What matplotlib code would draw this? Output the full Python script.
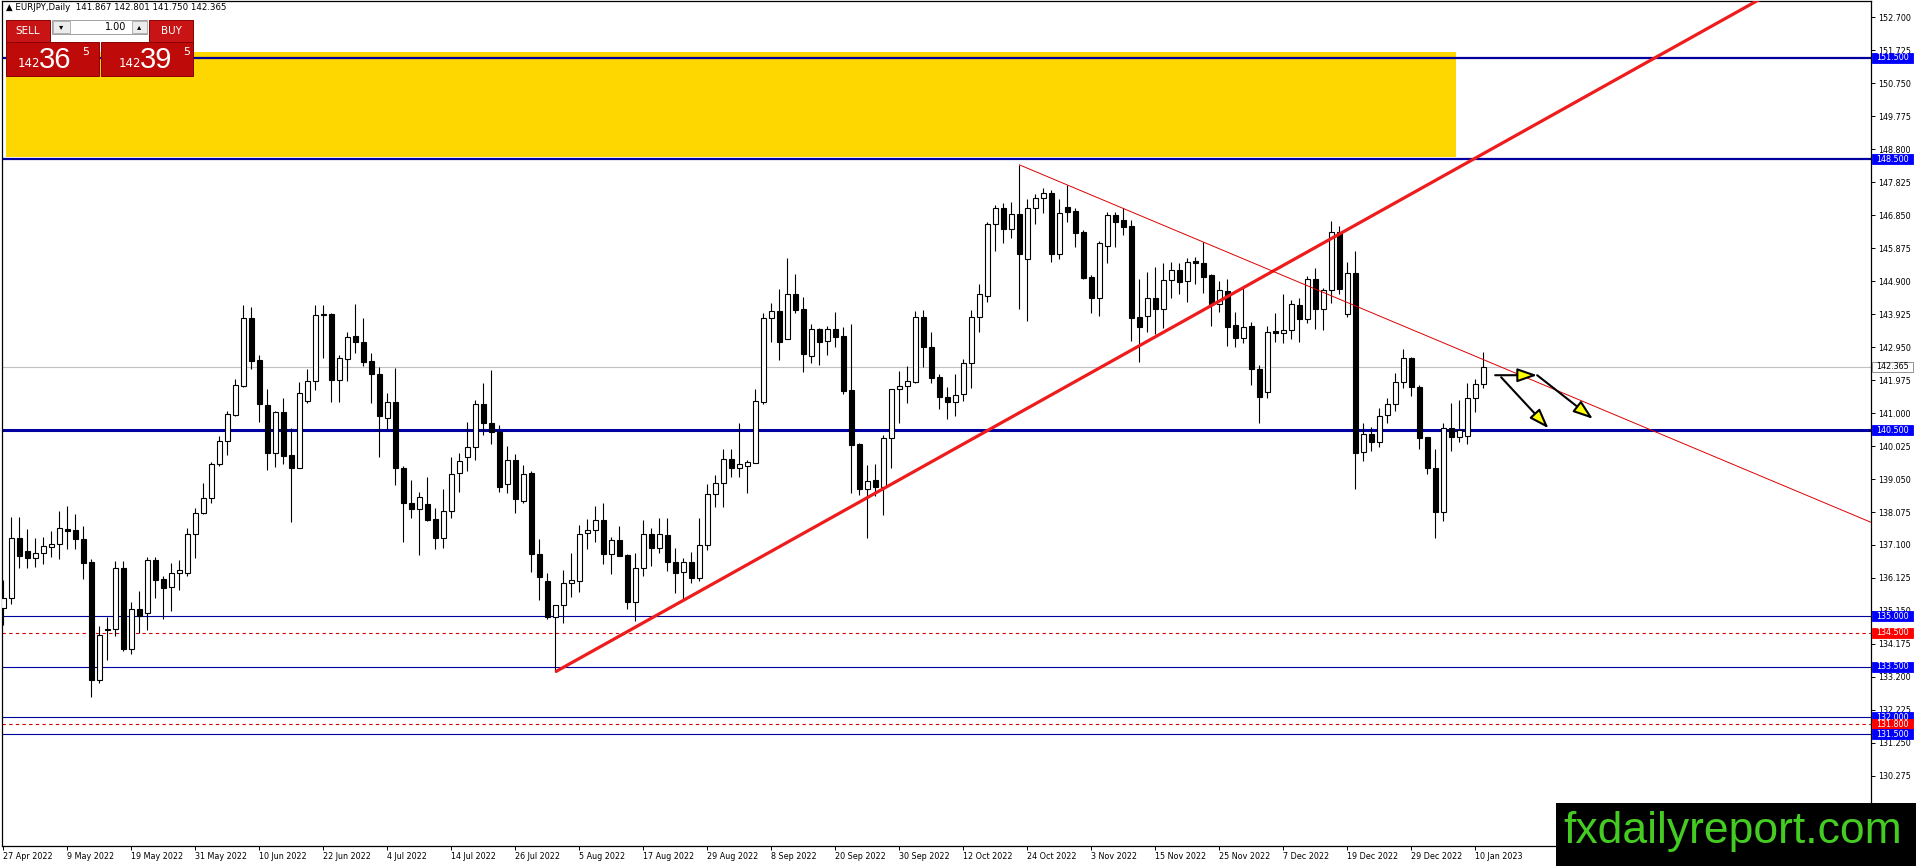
import numpy as np
import matplotlib.pyplot as plt
import matplotlib.transforms as mtransforms
from matplotlib.patches import Rectangle, FancyArrowPatch

# daily EURJPY candles, 27 Apr 2022 .. 11 Jan 2023
opens = [135.25, 135.52, 137.30, 136.92, 136.73, 136.85, 137.05, 137.12, 137.56, 137.54,
         137.28, 136.59, 133.10, 134.60, 134.63, 136.42, 134.03, 135.20, 135.08, 136.66,
         136.09, 135.85, 136.26, 136.28, 137.44, 138.04, 138.48, 139.49, 140.18, 140.94,
         141.81, 143.80, 142.56, 141.24, 139.81, 141.02, 139.76, 139.37, 141.36, 141.95,
         143.90, 143.92, 141.98, 142.59, 143.28, 143.11, 142.54, 142.15, 140.85, 141.32,
         139.37, 138.33, 138.16, 138.30, 137.86, 137.30, 138.11, 139.22, 139.71, 139.99,
         141.26, 140.70, 140.43, 138.89, 139.61, 138.41, 139.22, 136.82, 136.03, 134.96,
         135.32, 135.97, 136.04, 137.46, 137.53, 137.83, 136.82, 137.24, 136.80, 135.41,
         136.41, 137.42, 137.00, 137.40, 136.61, 136.29, 136.59, 136.11, 137.10, 138.60,
         138.92, 139.63, 139.37, 139.44, 139.53, 141.32, 143.80, 144.02, 143.18, 144.52,
         144.08, 142.70, 143.49, 143.14, 143.49, 143.28, 141.68, 140.09, 138.76, 139.02,
         138.82, 140.25, 141.70, 141.80, 141.93, 143.85, 142.95, 142.06, 141.47, 141.32,
         141.55, 142.47, 143.85, 144.47, 146.59, 147.06, 146.43, 146.88, 145.55, 147.06,
         147.35, 147.50, 145.70, 147.09, 146.97, 146.36, 145.03, 144.41, 145.95, 146.86,
         146.71, 146.53, 143.83, 143.87, 144.39, 144.07, 144.94, 145.23, 144.91, 145.50,
         145.43, 145.08, 144.22, 144.61, 143.60, 143.21, 143.57, 142.29, 141.63, 143.43,
         143.36, 143.45, 144.19, 143.77, 144.96, 144.07, 144.64, 146.35, 143.92, 145.13,
         139.86, 140.37, 140.15, 140.94, 141.26, 141.93, 142.62, 141.76, 140.28, 139.37,
         138.08, 140.57, 140.30, 140.32, 141.44, 141.867]
highs = [136.06, 137.92, 137.92, 137.56, 137.30, 137.35, 137.51, 138.11, 138.25, 138.02,
         137.66, 136.68, 134.70, 134.97, 136.62, 136.62, 135.40, 135.74, 136.75, 136.75,
         136.18, 136.56, 136.66, 137.59, 138.18, 138.92, 139.54, 140.32, 141.06, 142.00,
         144.20, 144.13, 142.72, 141.71, 141.06, 141.45, 140.57, 141.91, 142.30, 144.20,
         144.20, 143.95, 142.72, 143.41, 144.23, 143.80, 142.79, 142.37, 141.59, 142.32,
         139.44, 139.02, 138.68, 139.12, 138.18, 138.75, 139.71, 139.83, 140.75, 141.39,
         141.88, 142.27, 140.65, 140.03, 139.79, 139.47, 139.29, 137.27, 136.26, 135.32,
         136.36, 136.87, 137.69, 137.86, 138.25, 138.33, 137.34, 137.66, 136.82, 136.87,
         137.84, 137.59, 137.91, 137.91, 137.00, 136.72, 136.90, 137.91, 138.89, 139.17,
         139.93, 139.93, 140.70, 139.62, 141.70, 143.95, 144.25, 144.66, 145.59, 145.11,
         144.42, 143.63, 143.52, 143.58, 143.98, 143.54, 143.63, 140.12, 139.47, 139.49,
         140.35, 141.72, 142.24, 142.40, 144.02, 144.05, 143.39, 142.15, 141.76, 142.15,
         142.59, 144.05, 144.81, 146.66, 147.15, 147.20, 147.23, 148.34, 147.32, 147.47,
         147.65, 147.60, 147.32, 147.74, 147.05, 146.41, 145.08, 146.09, 146.96, 146.96,
         147.05, 146.71, 144.96, 145.18, 145.33, 145.43, 145.48, 145.43, 145.58, 145.61,
         146.05, 145.10, 144.91, 144.96, 143.98, 144.76, 143.70, 142.42, 143.58, 143.95,
         144.52, 144.34, 144.39, 145.05, 145.29, 144.69, 146.68, 146.54, 145.46, 145.79,
         140.70, 140.60, 141.14, 141.46, 142.19, 142.89, 142.65, 141.83, 140.30, 139.93,
         140.70, 141.29, 141.39, 141.88, 142.01, 142.801]
lows = [134.73, 135.37, 136.43, 136.43, 136.46, 136.55, 136.75, 136.68, 136.99, 136.97,
        136.10, 132.60, 133.03, 133.69, 134.42, 133.98, 133.87, 134.51, 134.59, 135.52,
        134.92, 135.16, 135.78, 136.19, 136.73, 138.02, 138.33, 139.43, 139.76, 140.92,
        141.78, 142.29, 140.75, 139.32, 139.41, 139.49, 137.79, 139.37, 141.31, 141.68,
        142.62, 141.34, 141.34, 141.96, 142.79, 142.39, 141.29, 139.71, 140.52, 138.87,
        137.20, 137.91, 136.80, 137.81, 136.97, 137.02, 137.91, 138.68, 139.29, 139.61,
        140.35, 140.08, 138.68, 138.63, 138.05, 138.35, 136.31, 135.47, 134.90, 133.35,
        134.78, 135.57, 135.72, 136.98, 137.20, 136.53, 136.23, 136.76, 135.21, 134.86,
        136.18, 136.49, 136.85, 136.34, 135.67, 135.49, 135.97, 136.04, 136.95, 138.21,
        138.21, 139.12, 139.12, 138.63, 139.51, 141.27, 143.11, 142.57, 143.18, 143.97,
        142.22, 142.49, 142.42, 142.72, 142.96, 141.56, 138.65, 138.58, 137.32, 138.55,
        137.99, 139.37, 140.72, 141.31, 141.90, 142.37, 141.90, 141.12, 140.83, 140.92,
        141.36, 141.73, 143.41, 144.29, 145.79, 146.02, 146.17, 144.07, 143.73, 146.58,
        146.91, 145.48, 145.55, 146.66, 145.92, 144.96, 143.97, 143.87, 145.45, 145.92,
        146.27, 143.14, 142.52, 143.41, 143.33, 143.51, 144.39, 144.51, 144.28, 144.82,
        144.56, 143.58, 143.99, 142.98, 142.96, 143.08, 141.83, 140.70, 141.46, 143.11,
        143.08, 143.18, 143.11, 143.65, 143.48, 143.46, 144.25, 144.52, 143.85, 138.75,
        139.59, 139.89, 139.99, 140.72, 141.07, 141.75, 141.51, 139.93, 139.20, 137.32,
        137.81, 139.89, 140.15, 140.09, 141.04, 141.750]
closes = [135.52, 137.30, 136.78, 136.72, 136.85, 137.06, 137.12, 137.59, 137.52, 137.27,
          136.58, 133.10, 134.43, 134.62, 136.41, 134.02, 135.20, 135.01, 136.66, 136.07,
          135.84, 136.26, 136.35, 137.44, 138.04, 138.48, 139.49, 140.18, 140.96, 141.83,
          143.80, 142.55, 141.26, 139.81, 141.02, 139.73, 139.37, 141.59, 141.95, 143.90,
          143.92, 141.98, 142.62, 143.26, 143.11, 142.52, 142.15, 140.91, 141.32, 139.39,
          138.33, 138.16, 138.51, 137.84, 137.30, 138.11, 139.20, 139.59, 139.99, 141.26,
          140.70, 140.43, 138.82, 139.61, 138.45, 139.19, 136.82, 136.16, 134.96, 135.32,
          135.97, 136.06, 137.42, 137.53, 137.83, 136.82, 137.24, 136.78, 135.41, 136.41,
          137.42, 137.00, 137.42, 136.61, 136.26, 136.59, 136.11, 137.10, 138.60, 138.92,
          139.63, 139.37, 139.49, 139.55, 141.36, 143.80, 144.02, 143.09, 144.52, 144.05,
          142.74, 143.49, 143.09, 143.49, 143.26, 141.65, 140.06, 138.76, 139.00, 138.82,
          140.25, 141.70, 141.81, 141.95, 143.85, 142.95, 142.05, 141.48, 141.32, 141.53,
          142.47, 143.85, 144.51, 146.59, 147.06, 146.43, 146.88, 145.70, 147.06, 147.35,
          147.50, 145.70, 146.91, 146.96, 146.33, 145.00, 144.41, 146.02, 146.86, 146.66,
          146.51, 143.82, 143.55, 144.39, 144.07, 144.94, 145.23, 144.87, 145.48, 145.43,
          145.03, 144.22, 144.64, 143.55, 143.21, 143.55, 142.29, 141.48, 143.41, 143.36,
          143.45, 144.22, 143.77, 144.96, 144.07, 144.64, 146.35, 144.66, 145.13, 139.83,
          140.37, 140.15, 140.92, 141.26, 141.93, 142.62, 141.76, 140.25, 139.37, 138.08,
          140.57, 140.30, 140.50, 141.44, 141.86, 142.365]

date_labels = ['27 Apr 2022', '9 May 2022', '19 May 2022', '31 May 2022', '10 Jun 2022',
               '22 Jun 2022', '4 Jul 2022', '14 Jul 2022', '26 Jul 2022', '5 Aug 2022',
               '17 Aug 2022', '29 Aug 2022', '8 Sep 2022', '20 Sep 2022', '30 Sep 2022',
               '12 Oct 2022', '24 Oct 2022', '3 Nov 2022', '15 Nov 2022', '25 Nov 2022',
               '7 Dec 2022', '19 Dec 2022', '29 Dec 2022', '10 Jan 2023']
price_ticks = [152.700, 151.725, 150.750, 149.775, 148.800, 147.825, 146.850, 145.875,
               144.900, 143.925, 142.950, 141.975, 141.000, 140.025, 139.050, 138.075,
               137.100, 136.125, 135.150, 134.175, 133.200, 132.225, 131.250, 130.275]

# levels drawn on the chart
blue_levels = [151.5, 148.5, 140.5, 135.0, 133.5, 132.0, 131.5]
red_levels = [134.5, 131.8]
last_price = 142.365
zone = (148.57, 151.68)          # yellow supply zone
up_line = (70, 133.35, 0.1321)    # start bar, price, slope per bar
down_line = (128, 148.34, -0.0993)

W, H = 1916, 866
fig = plt.figure(figsize=(W / 100, H / 100), dpi=100)
fig.patch.set_facecolor('white')

def fpx(x, y):
    return x / W, 1 - y / H

# plot area in pixels
L, R, T, B = 2.3, 1870.7, 1.0, 846.0
ax = fig.add_axes([L / W, 1 - B / H, (R - L) / W, (B - T) / H])
ax.set_xlim(0.875, 234.4)
ax.set_ylim(128.2, 153.185)
for s in ax.spines.values():
    s.set_linewidth(0.9)
    s.set_color('black')

o = np.array(opens); h = np.array(highs); lo = np.array(lows); c = np.array(closes)
idx = np.arange(1, len(o) + 1)

# zone + levels
ax.add_patch(Rectangle((1.34, zone[0]), 182.6 - 1.34, zone[1] - zone[0],
                       facecolor='#ffd700', edgecolor='none', zorder=0.5))
ax.axhline(last_price, color='#c0c0c0', lw=0.8, zorder=0.8)
for lv in blue_levels:
    lw = 2.2 if lv == 140.5 else (1.6 if lv > 145 else 0.8)
    ax.axhline(lv, color='#0000a0', lw=lw, zorder=1)
for lv in red_levels:
    ax.axhline(lv, color='#d00000', lw=0.8, ls=(0, (3, 3)), zorder=1)

# candles
ax.vlines(idx, lo, h, color='black', lw=0.8, zorder=2)
bottoms = np.minimum(o, c)
heights = np.maximum(np.abs(c - o), 0.02)
cols = np.where(c >= o, 'white', 'black')
ax.bar(idx, heights, bottom=bottoms, width=0.6, color=cols, edgecolor='black',
       linewidth=0.8, zorder=3)

# trend lines
x1 = np.array([up_line[0], 260])
ax.plot(x1, up_line[1] + (x1 - up_line[0]) * up_line[2], color='#ee1c1c', lw=2.3,
        zorder=4, solid_capstyle='butt')
x2 = np.array([down_line[0], 260])
ax.plot(x2, down_line[1] + (x2 - down_line[0]) * down_line[2], color='#dd0000',
        lw=0.7, zorder=4)

# projection arrows
arrows = [((187.46, 142.12), (192.71, 142.12)),
          ((192.71, 142.12), (199.68, 140.83)),
          ((188.21, 142.06), (194.13, 140.55))]
for a, b in arrows:
    ax.add_patch(FancyArrowPatch(a, b, arrowstyle='-|>,head_length=1.2,head_width=0.42',
                                 mutation_scale=10, facecolor='#ffff00', edgecolor='black',
                                 lw=1.5, shrinkA=0, shrinkB=0, zorder=6))

# axes ticks
ax.yaxis.tick_right()
ax.set_yticks(price_ticks)
ax.set_yticklabels(['%.3f' % t for t in price_ticks])
ax.tick_params(axis='y', direction='out', length=3, width=0.7, pad=2.5,
               labelsize=5.8, colors='black')
ax.set_xticks(np.arange(1, 1 + 8 * len(date_labels), 8))
ax.set_xticklabels(date_labels, ha='left')
ax.tick_params(axis='x', direction='out', length=3, width=0.7, pad=1.5, labelsize=5.8)

# price labels on the scale
bt = mtransforms.blended_transform_factory(ax.transAxes, ax.transData)
bx0 = (1872.3 - L) / (R - L)
bw = 41 / (R - L)
bh = 10 / 33.82

def level_box(p, fc, tc='white', ec=None):
    ax.add_patch(Rectangle((bx0, p - bh / 2), bw, bh, transform=bt, facecolor=fc,
                           edgecolor=ec or fc, lw=0.6, clip_on=False, zorder=10))
    ax.text(bx0 + bw / 2, p, '%.3f' % p, transform=bt, ha='center', va='center',
            fontsize=5.8, color=tc, clip_on=False, zorder=11)

for p in [151.5, 148.5, 140.5, 135.0, 133.5, 132.0]:
    level_box(p, '#0000ff')
level_box(134.5, '#ff0000')
level_box(131.8, '#ff0000')
level_box(131.5, '#0000ff')
level_box(last_price, 'white', 'black', '#808080')

# trade panel, top left
fig.text(*fpx(6, 8), '\u25b2 EURJPY,Daily  141.867 142.801 141.750 142.365',
         fontsize=6.2, va='center', ha='left', color='black')

def box(x0, y0, x1, y1, fc, ec):
    fig.patches.append(Rectangle(fpx(x0, y1), (x1 - x0) / W, (y1 - y0) / H,
                                 transform=fig.transFigure, facecolor=fc,
                                 edgecolor=ec, lw=0.7, zorder=20))

box(6, 20, 50, 42, '#c81414', '#8a0000')
box(149, 20, 193, 42, '#c81414', '#8a0000')
box(52, 20, 147, 34, 'white', '#a0a0a0')
box(53, 21, 70, 33, '#ececec', '#b0b0b0')
box(132, 21, 147, 33, '#ececec', '#b0b0b0')
box(6, 42, 99, 76, '#bf0a0a', '#8a0000')
box(101, 42, 193, 76, '#bf0a0a', '#8a0000')
kw = dict(zorder=21, va='center')
fig.text(*fpx(28, 31), 'SELL', fontsize=7.5, color='white', ha='center', **kw)
fig.text(*fpx(171, 31), 'BUY', fontsize=7.5, color='white', ha='center', **kw)
fig.text(*fpx(61.5, 27), '\u25be', fontsize=6, color='black', ha='center', **kw)
fig.text(*fpx(139.5, 27), '\u25b4', fontsize=6, color='black', ha='center', **kw)
fig.text(*fpx(126, 27), '1.00', fontsize=7, color='black', ha='right', **kw)
for x0, big in [(18, '36'), (119, '39')]:
    fig.text(*fpx(x0, 67), '142', fontsize=8.5, color='white', ha='left',
             va='baseline', zorder=21)
    fig.text(*fpx(x0 + 21, 68.5), big, fontsize=21, color='white', ha='left',
             va='baseline', family='Liberation Sans', zorder=21)
    fig.text(*fpx(x0 + 64, 47), '5', fontsize=8, color='white', ha='left',
             va='top', zorder=21)

# watermark
fig.patches.append(Rectangle(fpx(1556, 866), (W - 1556) / W, (866 - 803) / H,
                             transform=fig.transFigure, facecolor='black',
                             edgecolor='none', zorder=30))
fig.text(*fpx(1733, 843), 'fxdailyreport.com', fontsize=32, color='#44cc22',
         family='Liberation Sans', ha='center', va='baseline', zorder=31)

fig.savefig('out.png', dpi=100)
